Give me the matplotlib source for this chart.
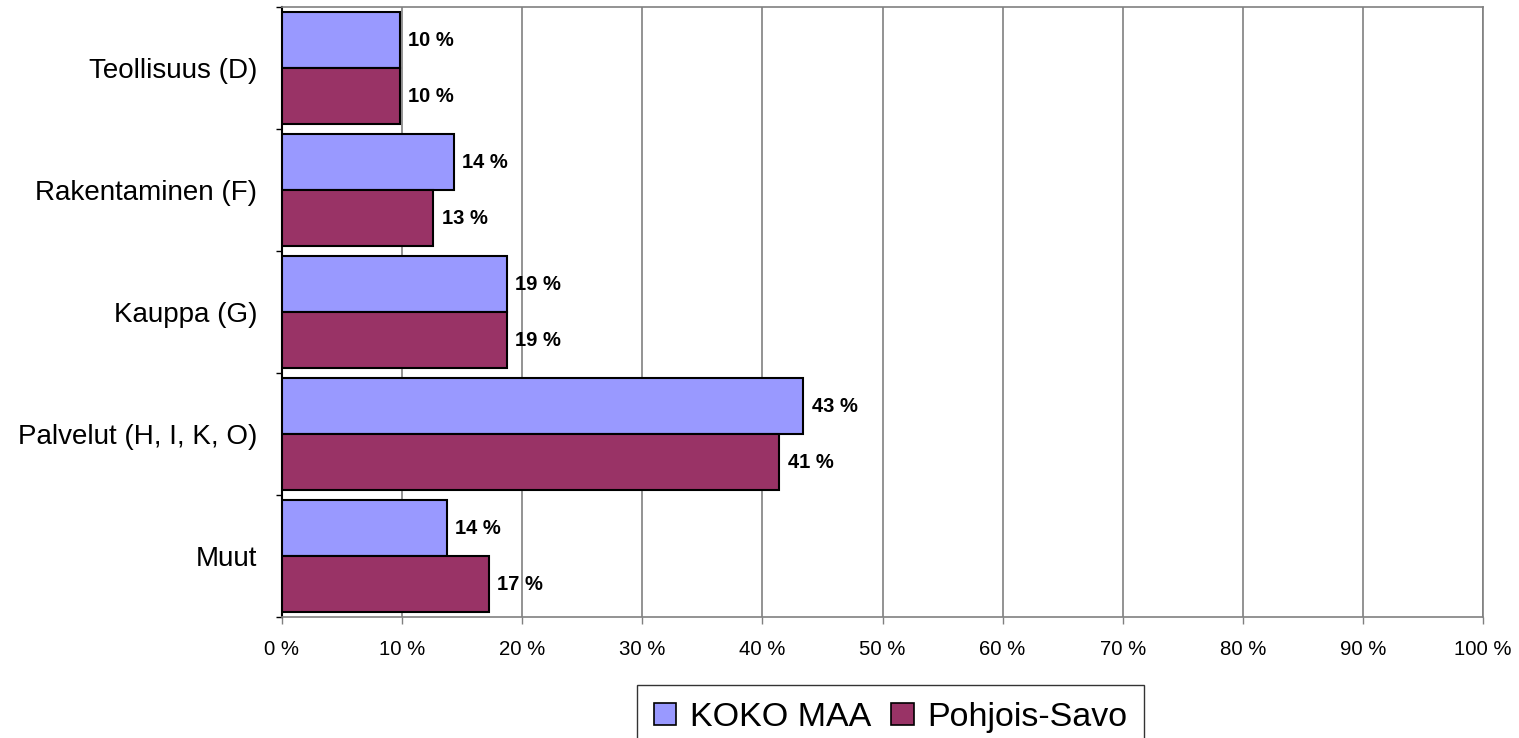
import matplotlib.pyplot as plt
import numpy as np
from matplotlib.patches import Patch

plt.rcParams['font.family'] = ['Liberation Sans', 'DejaVu Sans']

categories = ['Teollisuus (D)', 'Rakentaminen (F)', 'Kauppa (G)',
              'Palvelut (H, I, K, O)', 'Muut']
koko_maa = [9.8, 14.3, 18.7, 43.4, 13.7]
pohjois_savo = [9.8, 12.6, 18.7, 41.4, 17.2]
series_names = ['KOKO MAA', 'Pohjois-Savo']
xticks = list(range(0, 101, 10))

COL_A = '#9999ff'
COL_B = '#993366'
GRID = '#808080'

fig = plt.figure(figsize=(15.19, 7.38), dpi=100)
ax = fig.add_axes([282 / 1519, 1 - 617.3 / 738, 1201 / 1519, 610 / 738])

y = np.arange(len(categories))
h = 0.459
bars_a = ax.barh(y - h / 2, koko_maa, height=h, color=COL_A,
                 edgecolor='black', linewidth=1.5, zorder=3)
bars_b = ax.barh(y + h / 2, pohjois_savo, height=h, color=COL_B,
                 edgecolor='black', linewidth=1.5, zorder=3)

for bars, vals in [(bars_a, koko_maa), (bars_b, pohjois_savo)]:
    for b, v in zip(bars, vals):
        ax.annotate('{:.0f} %'.format(round(v)),
                    (v, b.get_y() + b.get_height() / 2),
                    xytext=(6, 0), textcoords='offset points',
                    ha='left', va='center', fontsize=14.5, fontweight='bold',
                    zorder=4)

ax.set_xlim(0, 100)
ax.set_ylim(len(categories) - 0.5, -0.5)
ax.set_xticks(xticks)
ax.set_xticklabels(['{} %'.format(t) for t in xticks], fontsize=14.7)
ax.tick_params(axis='x', length=5, width=1, color=GRID, pad=11.5)

ax.set_yticks(y)
ax.set_yticklabels(categories, fontsize=20)
ax.tick_params(axis='y', length=0, pad=18)
ax.set_yticks(np.arange(-0.5, len(categories)), minor=True)
ax.tick_params(axis='y', which='minor', length=4, width=1, color='black')

ax.grid(axis='x', color=GRID, linewidth=1.2, zorder=0)
ax.set_axisbelow(True)
for s in ['top', 'right', 'bottom']:
    ax.spines[s].set_color(GRID)
    ax.spines[s].set_linewidth(1.2)
ax.spines['left'].set_color('black')
ax.spines['left'].set_linewidth(1.5)

handles = [Patch(facecolor=COL_A, edgecolor='black', linewidth=1.2),
           Patch(facecolor=COL_B, edgecolor='black', linewidth=1.2)]
leg = fig.legend(handles, series_names, loc='upper left',
                 bbox_to_anchor=(637 / 1519, 1 - 685 / 738), ncols=2,
                 fontsize=24.5, frameon=True, fancybox=False, edgecolor='black',
                 handlelength=0.65, handleheight=0.65, handletextpad=0.4,
                 columnspacing=0.6, borderpad=0.5, borderaxespad=0)
leg.get_frame().set_linewidth(1)

fig.savefig('out.png', dpi=100)
